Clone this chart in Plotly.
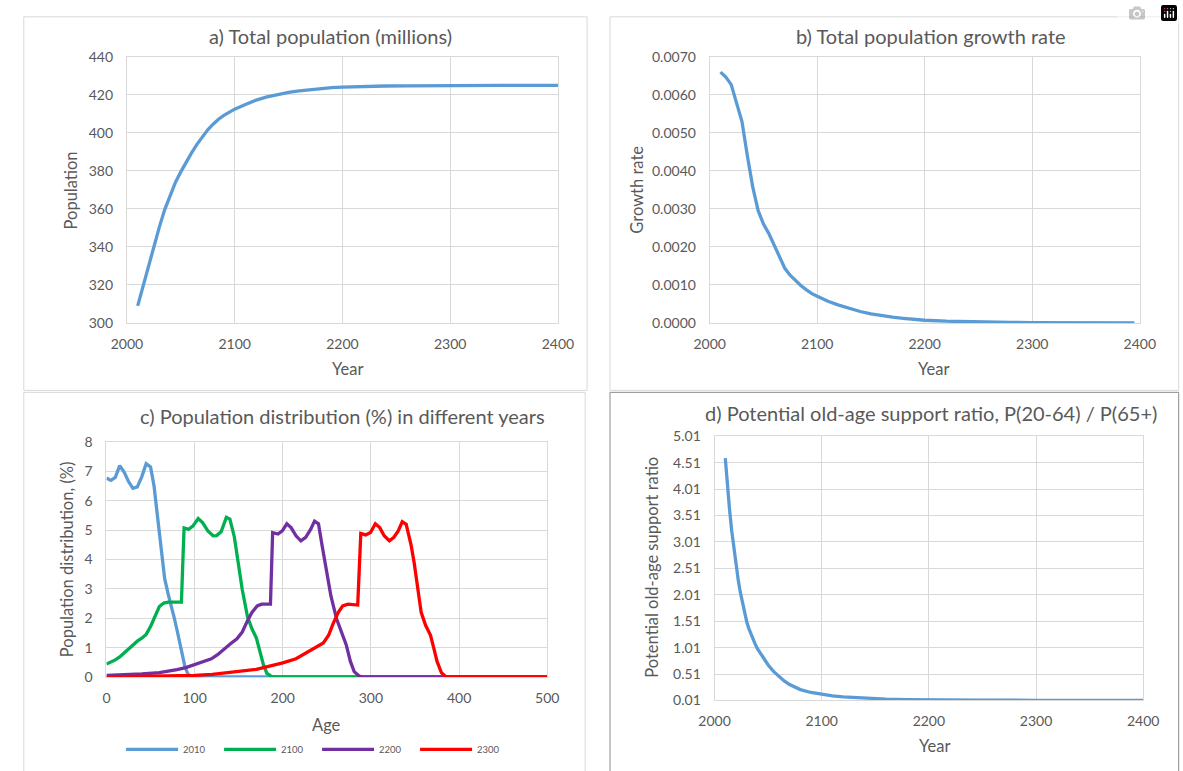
import plotly.graph_objects as go

W, H = 1183, 771

# ---------------- data ----------------
# a) Total population (millions)
years_a = [2010, 2015, 2020, 2025, 2030, 2035, 2040, 2045, 2050, 2055, 2060, 2065, 2070,
           2075, 2080, 2085, 2090, 2095, 2100, 2110, 2120, 2130, 2140, 2150, 2160, 2170,
           2180, 2190, 2200, 2220, 2240, 2260, 2280, 2300, 2350, 2400]
pop_a = [309.0, 319.5, 330.0, 340.3, 350.3, 359.5, 367.3, 373.9, 379.5, 384.8, 389.5, 394.0,
         398.0, 401.6, 404.6, 407.2, 409.2, 411.0, 412.5, 415.0, 417.3, 419.0, 420.2, 421.3,
         422.1, 422.8, 423.3, 423.8, 424.1, 424.5, 424.7, 424.8, 424.9, 425.0, 425.0, 425.0]

# b) Total population growth rate
years_b = [2010, 2015, 2020, 2025, 2030, 2035, 2040, 2045, 2050, 2055, 2060, 2065, 2070,
           2075, 2080, 2085, 2090, 2095, 2100, 2110, 2120, 2130, 2140, 2150, 2160, 2170,
           2180, 2190, 2200, 2220, 2240, 2260, 2280, 2300, 2350, 2395]
growth_b = [0.00660, 0.00647, 0.00627, 0.00582, 0.00530, 0.00440, 0.00358, 0.00296, 0.00260,
            0.00235, 0.00205, 0.00172, 0.00143, 0.00125, 0.00110, 0.00098, 0.00087, 0.00077,
            0.00070, 0.00057, 0.00047, 0.00038, 0.00030, 0.00024, 0.00019, 0.00015, 0.00012,
            0.00009, 0.00007, 0.000045, 0.00003, 0.00002, 0.000012, 0.000008, 0.000003, 0.000001]

# c) Population distribution (%) in different years
age_2010 = [0, 5, 10, 15, 20, 25, 30, 35, 40, 45, 50, 54, 57, 60, 63, 66, 70, 73, 77, 80, 83,
            86, 89, 92, 95, 97, 500]
dist_2010 = [6.78, 6.70, 6.80, 7.20, 6.98, 6.66, 6.43, 6.48, 6.82, 7.27, 7.16, 6.50, 5.70, 4.95,
             4.05, 3.35, 2.82, 2.50, 2.00, 1.60, 1.15, 0.70, 0.35, 0.12, 0.02, 0.0, 0.0]

age_2100 = [0, 5, 10, 15, 20, 25, 30, 35, 40, 45, 50, 55, 60, 65, 70, 85, 88, 93, 98, 104, 109,
            115, 121, 125, 130, 136, 140, 145, 149, 154, 160, 165, 170, 174, 178, 182, 187, 192, 500]
dist_2100 = [0.44, 0.50, 0.58, 0.68, 0.82, 0.97, 1.10, 1.22, 1.32, 1.45, 1.72, 2.09, 2.40, 2.52,
             2.55, 2.55, 5.08, 5.03, 5.14, 5.40, 5.26, 4.98, 4.81, 4.82, 4.95, 5.44, 5.38, 4.78,
             4.00, 2.98, 2.05, 1.64, 1.33, 0.90, 0.42, 0.12, 0.02, 0.0, 0.0]

age_2200 = [0, 20, 40, 60, 70, 80, 90, 100, 110, 119, 126, 134, 141, 148, 154, 160, 165, 171, 176,
            186, 188.5, 194.6, 199.4, 204.6, 209.4, 215, 220.5, 226, 231.6, 236, 240.5, 244.5, 250,
            254.6, 261, 266.4, 272, 276.7, 281, 286.6, 290, 500]
dist_2200 = [0.05, 0.07, 0.10, 0.15, 0.19, 0.25, 0.32, 0.42, 0.52, 0.62, 0.76, 0.98, 1.14, 1.30,
             1.53, 1.92, 2.20, 2.42, 2.48, 2.48, 4.92, 4.87, 4.98, 5.22, 5.09, 4.81, 4.64, 4.76,
             5.03, 5.31, 5.22, 4.50, 3.60, 2.76, 1.98, 1.53, 1.09, 0.53, 0.18, 0.03, 0.0, 0.0]

age_2300 = [0, 50, 100, 120, 150, 170, 185, 200, 215, 226, 237, 246, 252, 257, 263, 268, 274, 285,
            288.5, 294, 299.5, 305, 310, 315, 321, 326, 331, 335.5, 340, 345.5, 349, 353, 357, 362,
            367.6, 371.3, 375, 380, 385, 388, 500]
dist_2300 = [0.005, 0.015, 0.05, 0.09, 0.18, 0.26, 0.37, 0.48, 0.62, 0.81, 1.00, 1.16, 1.42, 1.81,
             2.20, 2.42, 2.48, 2.45, 4.89, 4.84, 4.92, 5.22, 5.09, 4.81, 4.64, 4.76, 4.98, 5.29,
             5.20, 4.50, 3.90, 3.00, 2.20, 1.76, 1.42, 0.98, 0.53, 0.14, 0.01, 0.0, 0.0]

series_c = ["2010", "2100", "2200", "2300"]

# d) Potential old-age support ratio
years_d = [2010, 2012, 2014, 2016, 2018, 2020, 2022, 2024, 2026, 2028, 2030, 2032, 2034, 2036,
           2038, 2040, 2045, 2050, 2055, 2060, 2065, 2070, 2075, 2080, 2090, 2100, 2110, 2120,
           2140, 2160, 2180, 2200, 2250, 2300, 2400]
ratio_d = [4.60, 4.05, 3.62, 3.22, 2.88, 2.58, 2.30, 2.06, 1.85, 1.66, 1.50, 1.37, 1.26, 1.16,
           1.07, 0.99, 0.82, 0.68, 0.56, 0.46, 0.38, 0.31, 0.255, 0.215, 0.16, 0.12, 0.095, 0.075,
           0.05, 0.035, 0.025, 0.02, 0.014, 0.012, 0.011]

ticks_d = [0.01, 0.51, 1.01, 1.51, 2.01, 2.51, 3.01, 3.51, 4.01, 4.51, 5.01]
ticks_b = [0.0, 0.001, 0.002, 0.003, 0.004, 0.005, 0.006, 0.007]

# ---------------- styling ----------------
FONT = "Lato"
TXT = "#595959"
GRID = "#D9D9D9"
BLUE = "#5B9BD5"
GREEN = "#00B050"
PURPLE = "#7030A0"
RED = "#FF0000"
LW = 3.3


def px(x):
    return x / W


def py(y):
    return 1 - y / H


fig = go.Figure()

fig.add_trace(go.Scatter(x=years_a, y=pop_a, mode="lines", line=dict(color=BLUE, width=LW),
                         xaxis="x", yaxis="y", showlegend=False))
fig.add_trace(go.Scatter(x=years_b, y=growth_b, mode="lines", line=dict(color=BLUE, width=LW),
                         xaxis="x2", yaxis="y2", showlegend=False))
for name, ages, vals, col in zip(series_c, [age_2010, age_2100, age_2200, age_2300],
                                 [dist_2010, dist_2100, dist_2200, dist_2300],
                                 [BLUE, GREEN, PURPLE, RED]):
    fig.add_trace(go.Scatter(x=ages, y=vals, mode="lines", name=name,
                             line=dict(color=col, width=LW), xaxis="x3", yaxis="y3"))
fig.add_trace(go.Scatter(x=years_d, y=ratio_d, mode="lines", line=dict(color=BLUE, width=LW),
                         xaxis="x4", yaxis="y4", showlegend=False))


def axis(dom, rng, anchor, dtick=None, tickvals=None, ticktext=None, standoff=10):
    d = dict(domain=dom, range=rng, anchor=anchor, showgrid=True, gridcolor=GRID, gridwidth=1,
             showline=True, linecolor=GRID, linewidth=1, mirror=True, zeroline=False, ticks="",
             tickfont=dict(family=FONT, size=14, color=TXT), ticklabelstandoff=standoff,
             fixedrange=True)
    if dtick is not None:
        d["dtick"] = dtick
        d["tick0"] = rng[0]
    if tickvals is not None:
        d["tickmode"] = "array"
        d["tickvals"] = tickvals
        d["ticktext"] = ticktext
    return d


# plot-area pixel boxes (left, right, top, bottom)
A = (114, 557, 49, 321)
B = (713, 1155, 49, 321)
C = (93, 546, 443, 683)
D = (718, 1158.5, 437, 707)


def xd(b):
    return [px(b[0]), px(b[1])]


def yd(b):
    return [py(b[3]), py(b[2])]


layout = dict(
    width=W, height=H, margin=dict(l=0, r=0, t=0, b=0),
    paper_bgcolor="white", plot_bgcolor="white",
    font=dict(family=FONT, color=TXT),
    xaxis=axis(xd(A), [2000, 2400], "y", dtick=100, standoff=8),
    yaxis=axis(yd(A), [300, 440], "x", dtick=20, standoff=10),
    xaxis2=axis(xd(B), [2000, 2400], "y2", dtick=100, standoff=8),
    yaxis2=axis(yd(B), [0, 0.007], "x2", tickvals=ticks_b,
                ticktext=["%.4f" % v for v in ticks_b], standoff=10),
    xaxis3=axis(xd(C), [0, 500], "y3", dtick=100, standoff=8),
    yaxis3=axis(yd(C), [0, 8], "x3", dtick=1, standoff=10),
    xaxis4=axis(xd(D), [2000, 2400], "y4", dtick=100, standoff=8),
    yaxis4=axis(yd(D), [0.01, 5.01], "x4", tickvals=ticks_d,
                ticktext=["%.2f" % v for v in ticks_d], standoff=10),
    legend=dict(orientation="h", x=px(108), y=py(757), xanchor="left", yanchor="middle",
                font=dict(family=FONT, size=9.5, color=TXT), itemwidth=52, entrywidth=31,
                bgcolor="rgba(0,0,0,0)", traceorder="normal"),
    showlegend=True,
)

ann = []


def text(t, x, y, size, angle=0):
    ann.append(dict(text=t, x=px(x), y=py(y), xref="paper", yref="paper", showarrow=False,
                    xanchor="center", yanchor="middle", textangle=angle,
                    font=dict(family=FONT, size=size, color=TXT)))


TS = 20
AS = 16.5
text("a) Total population (millions)", 323, 28, TS)
text("b) Total population growth rate", 940, 28, TS)
text("c) Population distribution (%) in different years", 336, 416, TS)
text("d) Potential old-age support ratio, P(20-64) / P(65+)", 940, 413, TS)
text("Year", 341, 368, AS)
text("Year", 943, 368, AS)
text("Age", 319, 732, AS)
text("Year", 944, 754, AS)
text("Population", 56, 185, AS, -90)
text("Growth rate", 638, 185, AS, -90)
text("Population distribution, (%)", 52, 563, AS, -90)
text("Potential old-age support ratio", 654, 571, AS, -90)
layout["annotations"] = ann

shapes = []


def box(x0, y0, x1, y1, col):
    shapes.append(dict(type="rect", xref="paper", yref="paper", x0=px(x0), x1=px(x1),
                       y0=py(y1), y1=py(y0), line=dict(color=col, width=1),
                       fillcolor="rgba(0,0,0,0)", layer="below"))


box(8, 8, 587, 390, "#D9D9D9")
box(610.5, 8, 1195, 390, "#D9D9D9")
box(8, 392, 585, 790, "#D9D9D9")
box(610.5, 392, 1195, 790, "#8C8C8C")
layout["shapes"] = shapes

fig.update_layout(**layout)
fig.write_html("out.html", post_script="document.body.style.margin='0';document.body.style.overflow='hidden';")
